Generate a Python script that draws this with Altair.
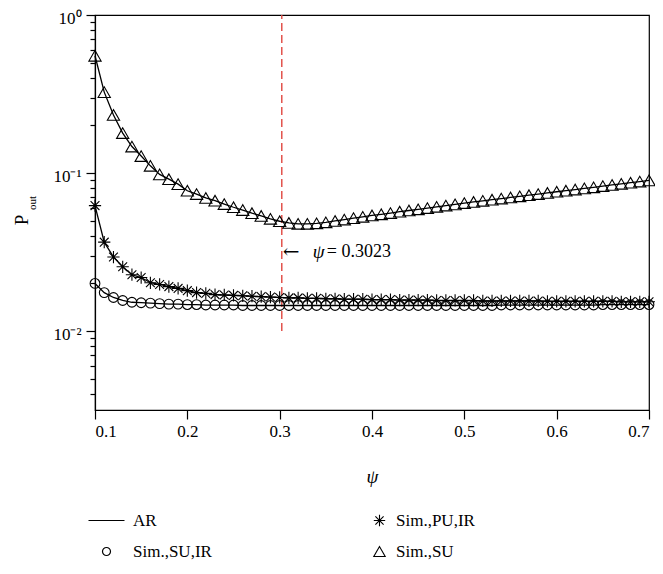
import altair as alt
import pandas as pd

psi = [0.10, 0.11, 0.12, 0.13, 0.14, 0.15, 0.16, 0.17, 0.18, 0.19,
       0.20, 0.21, 0.22, 0.23, 0.24, 0.25, 0.26, 0.27, 0.28, 0.29,
       0.30, 0.31, 0.32, 0.33, 0.34, 0.35, 0.36, 0.37, 0.38, 0.39,
       0.40, 0.41, 0.42, 0.43, 0.44, 0.45, 0.46, 0.47, 0.48, 0.49,
       0.50, 0.51, 0.52, 0.53, 0.54, 0.55, 0.56, 0.57, 0.58, 0.59,
       0.60, 0.61, 0.62, 0.63, 0.64, 0.65, 0.66, 0.67, 0.68, 0.69, 0.70]

p_su = [0.552, 0.325, 0.233, 0.179, 0.147, 0.128, 0.111, 0.098, 0.0914, 0.0850,
        0.0772, 0.0736, 0.0695, 0.0668, 0.0636, 0.0607, 0.0583, 0.0557, 0.0535, 0.0513,
        0.0495, 0.0483, 0.0477, 0.0477, 0.0480, 0.0487, 0.0497, 0.0507, 0.0518, 0.0528,
        0.0539, 0.0548, 0.0558, 0.0569, 0.0579, 0.0589, 0.0600, 0.0611, 0.0622, 0.0633,
        0.0645, 0.0656, 0.0667, 0.0678, 0.0689, 0.0700, 0.0712, 0.0724, 0.0736, 0.0748,
        0.0761, 0.0773, 0.0786, 0.0799, 0.0812, 0.0826, 0.0840, 0.0854, 0.0868, 0.0883, 0.0898]

p_pu_ir = [0.0622, 0.0365, 0.0294, 0.0255, 0.0227, 0.0218, 0.0202, 0.0197, 0.0191, 0.0186,
           0.0180, 0.0175, 0.0173, 0.0170, 0.0169, 0.0168, 0.0167, 0.0166, 0.0165, 0.0164,
           0.0163, 0.0162, 0.0162, 0.0161, 0.0161, 0.0160, 0.0160, 0.0159, 0.0159, 0.0159,
           0.0158, 0.0158, 0.0158, 0.0157, 0.0157, 0.0157, 0.0157, 0.0156, 0.0156, 0.0156,
           0.0156, 0.0156, 0.0155, 0.0155, 0.0155, 0.0155, 0.0155, 0.0155, 0.0155, 0.0154,
           0.0154, 0.0154, 0.0154, 0.0154, 0.0154, 0.0154, 0.0154, 0.0153, 0.0153, 0.0153, 0.0153]

p_su_ir = [0.0200, 0.0175, 0.0163, 0.0156, 0.0152, 0.0151, 0.0150, 0.0149, 0.0148, 0.0148,
           0.0147, 0.0147, 0.0146, 0.0146, 0.0146, 0.0146, 0.0145, 0.0145, 0.0145, 0.0145,
           0.0145, 0.0145, 0.0145, 0.0145, 0.0145, 0.0145, 0.0145, 0.0145, 0.0145, 0.0145,
           0.0145, 0.0145, 0.0145, 0.0145, 0.0145, 0.0145, 0.0145, 0.0145, 0.0145, 0.0145,
           0.0145, 0.0145, 0.0145, 0.0145, 0.0146, 0.0146, 0.0146, 0.0146, 0.0146, 0.0146,
           0.0146, 0.0146, 0.0146, 0.0146, 0.0146, 0.0147, 0.0147, 0.0147, 0.0147, 0.0147, 0.0147]

series_names = ["Sim.,SU", "Sim.,PU,IR", "Sim.,SU,IR"]
x_ticks = [0.1, 0.2, 0.3, 0.4, 0.5, 0.6, 0.7]
y_ticks = [0.004, 0.005, 0.006, 0.007, 0.008, 0.009, 0.01,
           0.02, 0.03, 0.04, 0.05, 0.06, 0.07, 0.08, 0.09, 0.1,
           0.2, 0.3, 0.4, 0.5, 0.6, 0.7, 0.8, 0.9, 1]
psi_opt = 0.3023
ann_y = 0.0316

FONT = "Liberation Serif"

rows = []
for name, vals in zip(series_names, [p_su, p_pu_ir, p_su_ir]):
    for x, v in zip(psi, vals):
        rows.append({"psi": x, "P": v, "series": name})
df = pd.DataFrame(rows)

xscale = alt.Scale(domain=[0.1, 0.7], nice=False, zero=False)
yscale = alt.Scale(type="log", domain=[10 ** -2.5, 1], nice=False)

xaxis = alt.Axis(values=x_ticks, format=".1f", grid=False, title="ψ",
                 titleFont=FONT, titleFontStyle="italic", titleFontWeight="normal",
                 titleFontSize=19, titlePadding=28, tickSize=9, labelPadding=4,
                 labelFont=FONT, labelFontSize=17, labelColor="black", titleColor="black")
yaxis = alt.Axis(values=y_ticks, grid=False, title=None,
                 labelExpr="datum.value == 1 ? '10⁰' : datum.value == 0.1 ? '10⁻¹' : datum.value == 0.01 ? '10⁻²' : ''",
                 tickSize={"condition": {"test": "datum.value == 1 || datum.value == 0.1 || datum.value == 0.01", "value": 9}, "value": 5},
                 labelPadding=5, labelOffset=3, labelFont=FONT, labelFontSize=17, labelColor="black")

base = alt.Chart(df)

lines = base.mark_line(color="black", strokeWidth=1.3).encode(
    x=alt.X("psi:Q", scale=xscale, axis=xaxis),
    y=alt.Y("P:Q", scale=yscale, axis=yaxis),
    detail="series:N",
)

line_path = "M-4.5,0L4.5,0"
star_path = "M0,-1L0,1M-1,0L1,0M-0.72,-0.72L0.72,0.72M-0.72,0.72L0.72,-0.72"

pts_a = base.transform_filter(alt.datum.series == "Sim.,SU,IR").mark_point(
    filled=False, color="black", strokeWidth=1.1, size=95, opacity=1
).encode(
    x=alt.X("psi:Q", scale=xscale),
    y=alt.Y("P:Q", scale=yscale),
    shape=alt.Shape("series:N",
                    scale=alt.Scale(domain=["AR", "Sim.,SU,IR"], range=[line_path, "circle"]),
                    legend=alt.Legend(title=None, orient="none", legendX=3, legendY=497,
                                      direction="vertical", symbolSize=64,
                                      symbolStrokeColor="black", symbolFillColor="white",
                                      symbolStrokeWidth=1.2, labelFont=FONT, labelFontSize=17,
                                      labelFontWeight="normal",
                                      labelOffset=18, rowPadding=13, labelColor="black")),
)

pts_b = base.transform_filter(alt.datum.series != "Sim.,SU,IR").mark_point(
    filled=False, color="black", strokeWidth=1.1, size=150, opacity=1
).encode(
    x=alt.X("psi:Q", scale=xscale),
    y=alt.Y("P:Q", scale=yscale),
    shape=alt.Shape("series:N",
                    scale=alt.Scale(domain=["Sim.,PU,IR", "Sim.,SU"], range=[star_path, "triangle-up"]),
                    legend=alt.Legend(title=None, orient="none", legendX=276, legendY=497,
                                      direction="vertical", symbolSize=130,
                                      symbolStrokeColor="black", symbolFillColor="white",
                                      symbolStrokeWidth=1.1, labelFont=FONT, labelFontSize=17,
                                      labelFontWeight="normal",
                                      labelOffset=8, rowPadding=13, labelColor="black")),
)

rule_df = pd.DataFrame({"psi": [psi_opt], "lo": [0.01], "hi": [1.0]})
rule = alt.Chart(rule_df).mark_rule(color="#e0473f", strokeDash=[8, 4], strokeWidth=1.4).encode(
    x=alt.X("psi:Q", scale=xscale),
    y=alt.Y("lo:Q", scale=yscale),
    y2="hi:Q",
)

ann_df = pd.DataFrame({"psi": [psi_opt], "P": [ann_y]})
ann_base = alt.Chart(ann_df).encode(x=alt.X("psi:Q", scale=xscale), y=alt.Y("P:Q", scale=yscale))
arrow = ann_base.mark_text(text="←", align="left", baseline="middle", dx=1,
                           font="DejaVu Serif", fontSize=20, color="black")
psi_txt = ann_base.mark_text(text="ψ", align="left", baseline="middle", dx=31,
                             font=FONT, fontSize=19, fontStyle="italic", color="black")
val_txt = ann_base.mark_text(text="= 0.3023", align="left", baseline="middle", dx=45,
                             font=FONT, fontSize=18, color="black")

title_df = pd.DataFrame({"t": ["P"]})
ytitle_p = alt.Chart(title_df).mark_text(text="P", angle=270, align="center", baseline="middle",
                                         font=FONT, fontSize=19, color="black").encode(
    x=alt.value(-73), y=alt.value(205))
ytitle_sub = alt.Chart(title_df).mark_text(text="out", angle=270, align="center", baseline="middle",
                                           font=FONT, fontSize=11, color="black").encode(
    x=alt.value(-62), y=alt.value(188))

chart = alt.layer(
    rule, lines, pts_a, pts_b, arrow, psi_txt, val_txt, ytitle_p, ytitle_sub
).resolve_scale(shape="independent").properties(
    width=554, height=395,
    background="white",
    autosize=alt.AutoSizeParams(type="none"),
    padding={"left": 87, "top": 7, "right": 6, "bottom": 156},
).configure_view(stroke="black", strokeWidth=1.2).configure_axis(
    labelFont=FONT, labelFontSize=17, labelColor="black",
    domainColor="black", domainWidth=1.2, tickColor="black", tickWidth=1.2,
).configure_legend(labelFont=FONT, labelFontSize=17, labelColor="black")

chart.save("out.html", embed_options={"renderer": "svg", "actions": False})
